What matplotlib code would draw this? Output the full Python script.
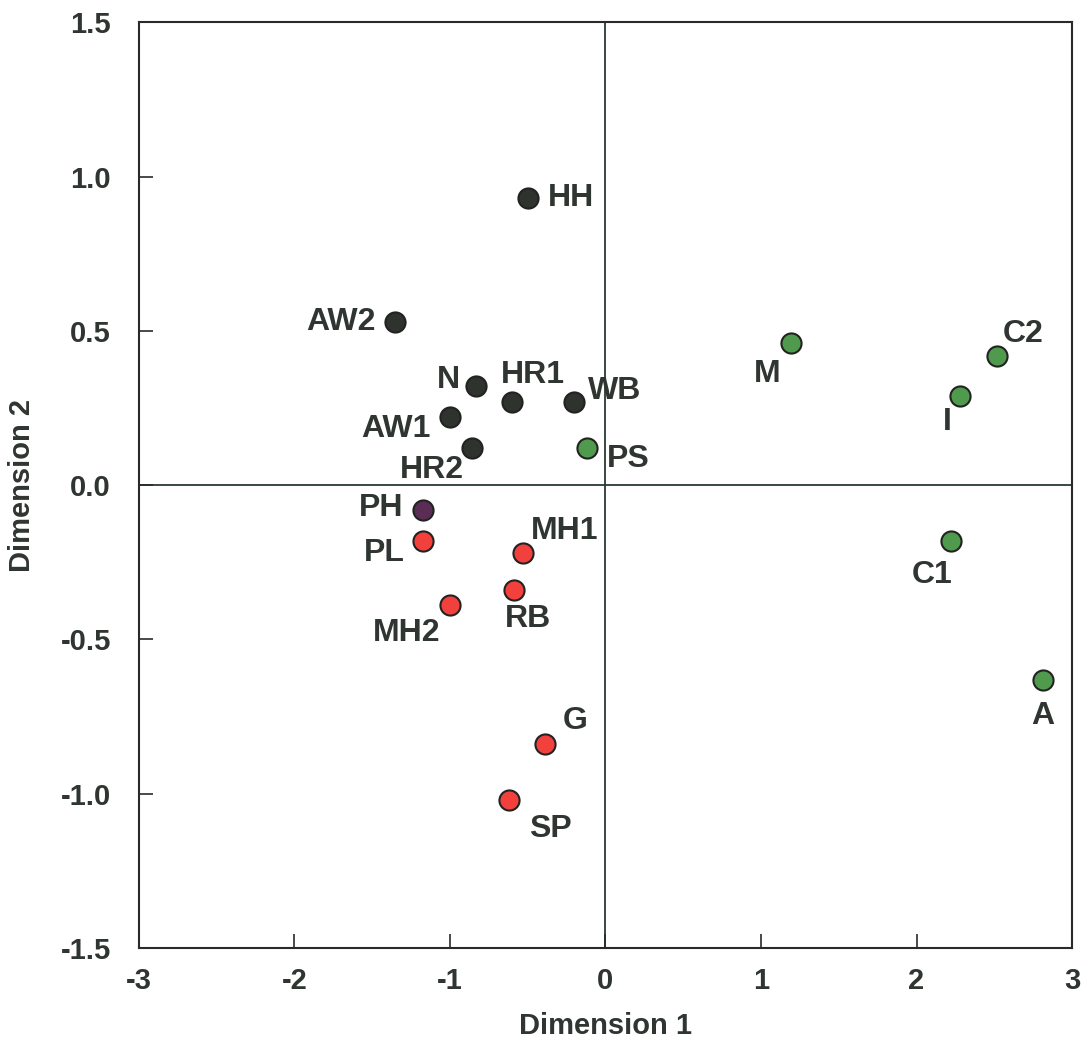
import matplotlib
matplotlib.use("Agg")
import matplotlib.pyplot as plt

labels = ["HH", "AW2", "N", "HR1", "WB", "AW1", "HR2", "PS", "PH", "PL",
          "MH1", "RB", "MH2", "G", "SP", "M", "C2", "I", "C1", "A"]
dim1 = [-0.50, -1.35, -0.83, -0.60, -0.20, -1.00, -0.86, -0.12, -1.17, -1.17,
        -0.53, -0.59, -1.00, -0.39, -0.62, 1.19, 2.52, 2.28, 2.22, 2.81]
dim2 = [0.93, 0.53, 0.32, 0.27, 0.27, 0.22, 0.12, 0.12, -0.08, -0.18,
        -0.22, -0.34, -0.39, -0.84, -1.02, 0.46, 0.42, 0.29, -0.18, -0.63]
groups = ["dark", "dark", "dark", "dark", "dark", "dark", "dark", "green", "purple", "red",
          "red", "red", "red", "red", "red", "green", "green", "green", "green", "green"]
xticks = [-3, -2, -1, 0, 1, 2, 3]
yticks = [-1.5, -1.0, -0.5, 0.0, 0.5, 1.0, 1.5]

colors = {"dark": "#2e332d", "green": "#4f9a4c", "purple": "#5b2d55", "red": "#f2413d"}
# label offsets in pixels (dx, dy, ha)
offsets = {
    "HH": (20, 0, "left"), "AW2": (-20, 0, "right"), "N": (-16, 6, "right"),
    "HR1": (21, 27, "center"), "WB": (14, 11, "left"), "AW1": (-19, -12, "right"),
    "HR2": (-8, -22, "right"), "PS": (20, -11, "left"), "PH": (-20, 2, "right"),
    "PL": (-19, -12, "right"), "MH1": (8, 22, "left"), "RB": (14, -29, "center"),
    "MH2": (-9, -28, "right"), "G": (18, 23, "left"), "SP": (20, -29, "left"),
    "M": (-10, -31, "right"), "C2": (5, 22, "left"), "I": (-13, -26, "center"),
    "C1": (-19, -34, "center"), "A": (0, -36, "center"),
}

txt = "#2f3530"
fam = ["Liberation Sans", "DejaVu Sans"]
fig = plt.figure(figsize=(10.84, 10.39), dpi=100)
ax = fig.add_axes([0.128, 0.0876, 0.861, 0.891])
ax.axhline(0, color="#2a3a35", lw=1.3, zorder=1)
ax.axvline(0, color="#2a3a35", lw=1.3, zorder=1)
for x, y, g, lab in zip(dim1, dim2, groups, labels):
    ax.scatter([x], [y], s=210, color=colors[g], edgecolor="#222222", linewidth=1.5, zorder=3)
    dx, dy, ha = offsets[lab]
    ax.annotate(lab, (x, y), xytext=(dx, dy), textcoords="offset pixels",
                ha=ha, va="center", fontsize=23, fontweight="bold",
                family=fam, color=txt)

ax.set_xlim(-3, 3)
ax.set_ylim(-1.5, 1.5)
ax.set_xticks(xticks)
ax.set_yticks(yticks)
ax.set_xticklabels([str(t) for t in xticks])
ax.set_yticklabels([f"{t:.1f}" for t in yticks])
ax.tick_params(direction="in", length=10, width=1.2, colors="#2a2a2a", top=False, right=False)
ax.tick_params(axis="y", pad=20)
ax.tick_params(axis="x", pad=14)
for lbl in ax.get_xticklabels() + ax.get_yticklabels():
    lbl.set_fontfamily(fam)
    lbl.set_fontweight("bold")
    lbl.set_fontsize(21)
    lbl.set_color(txt)
for s in ax.spines.values():
    s.set_linewidth(1.5)
    s.set_color("#2a2a2a")
ax.set_xlabel("Dimension 1", fontsize=21, fontweight="bold", color=txt,
              family=fam, labelpad=12)
ax.set_ylabel("Dimension 2", fontsize=21, fontweight="bold", color=txt,
              family=fam, labelpad=18)
fig.savefig("out.png", dpi=100)
